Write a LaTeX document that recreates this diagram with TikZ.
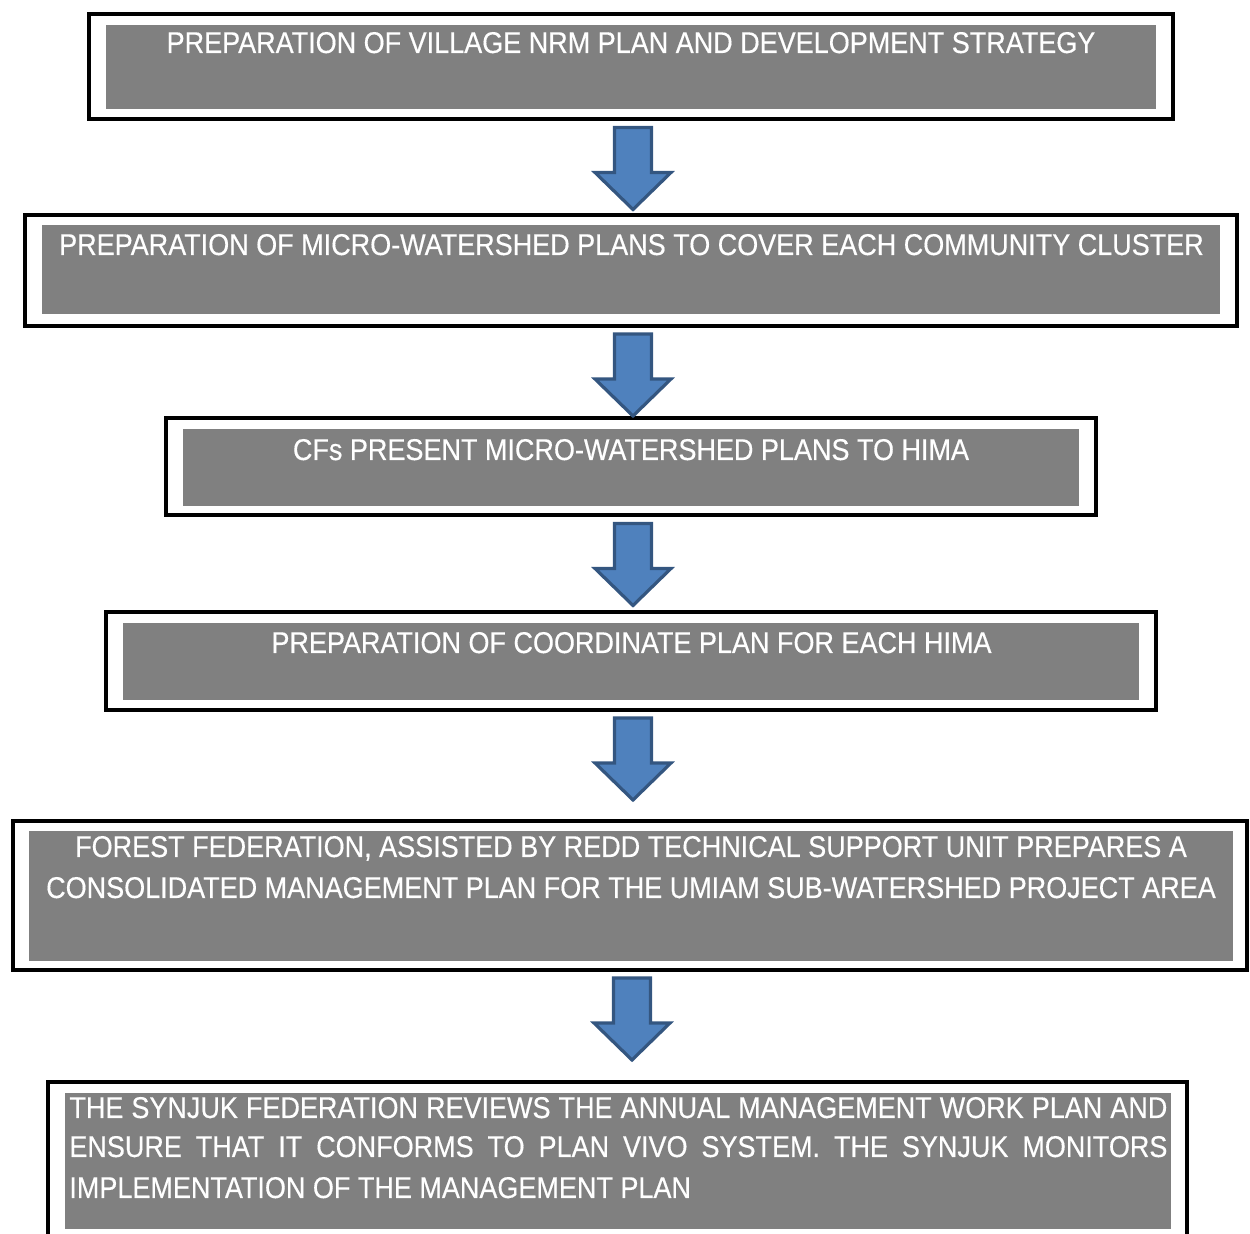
\documentclass[tikz,border=0pt]{standalone}
\usepackage{fontspec}
\setmainfont{Liberation Sans}[FakeStretch=0.9, FakeBold=0.4]
\usetikzlibrary{calc,fit}
\definecolor{panelgray}{RGB}{128,128,128}
\definecolor{arrowfill}{RGB}{79,129,189}
\definecolor{arrowline}{RGB}{52,86,128}
\tikzset{
  frame/.style={draw=black, line width=2pt, fill=white, inner sep=0pt},
  panel/.style={fill=panelgray, draw=none, inner sep=0pt},
  lbl/.style={text=white, font=\fontsize{15}{20}\selectfont, inner sep=0pt},
  flowarrowstyle/.style={fill=arrowfill, draw=arrowline, line width=1.6pt, line join=miter},
}
% arrow hangs below node #1, pointing towards node #2
\newcommand\flowarrow[2]{%
  \path[flowarrowstyle] let \p1=(#1.south), \p2=(#2.north) in
    (\x1+1pt-9.25pt, \y1-3pt) -- (\x1+1pt+9.25pt, \y1-3pt)
    -- (\x1+1pt+9.25pt, \y1-3pt-22.5pt) -- (\x1+1pt+19pt, \y1-3pt-22.5pt)
    -- (\x1+1pt, \y1-3pt-41pt)
    -- (\x1+1pt-19pt, \y1-3pt-22.5pt) -- (\x1+1pt-9.25pt, \y1-3pt-22.5pt) -- cycle;}
\begin{document}
\begin{tikzpicture}[x=0.5pt, y=-0.5pt]
\useasboundingbox (0,0) rectangle (1250,1234);
\clip (0,0) rectangle (1250,1234);

% box 1
\node[frame, fit={(89,14.5) (1173,119.5)}] (f1) {};
\node[panel, fit={(106,25) (1156,109)}] (p1) {};
\node[lbl, anchor=base] (t1) at (631,53) {PREPARATION OF VILLAGE NRM PLAN AND DEVELOPMENT STRATEGY};

% box 2
\node[frame, fit={(25,215) (1237,326)}] (f2) {};
\node[panel, fit={(42,225) (1220,314)}] (p2) {};
\node[lbl, anchor=base] (t2) at (631.5,255) {PREPARATION OF MICRO-WATERSHED PLANS TO COVER EACH COMMUNITY CLUSTER};

% box 3
\node[frame, fit={(166,418) (1096,515.5)}] (f3) {};
\node[panel, fit={(183,429) (1079,506)}] (p3) {};
\node[lbl, anchor=base] (t3) at (631,460) {CFs PRESENT MICRO-WATERSHED PLANS TO HIMA};

% box 4
\node[frame, fit={(106,612) (1156,710)}] (f4) {};
\node[panel, fit={(123,623) (1139,700)}] (p4) {};
\node[lbl, anchor=base] (t4) at (631.5,653) {PREPARATION OF COORDINATE PLAN FOR EACH HIMA};

% box 5
\node[frame, fit={(13,821) (1247,970)}] (f5) {};
\node[panel, fit={(29,831) (1233,961)}] (p5) {};
\node[lbl, anchor=base] (t5a) at (631,857) {FOREST FEDERATION, ASSISTED BY REDD TECHNICAL SUPPORT UNIT PREPARES A};
\node[lbl, anchor=base] (t5b) at (631,898) {CONSOLIDATED MANAGEMENT PLAN FOR THE UMIAM SUB-WATERSHED PROJECT AREA};

% box 6
\node[frame, fit={(48,1082) (1187,1270)}] (f6) {};
\node[panel, fit={(65,1093) (1171,1229)}] (p6) {};
\node[lbl, anchor=base west] (t6a) at (69,1118) {\makebox[549pt][s]{THE SYNJUK FEDERATION REVIEWS THE ANNUAL MANAGEMENT WORK PLAN AND}};
\node[lbl, anchor=base west] (t6b) at (69,1157) {\makebox[549pt][s]{ENSURE THAT IT CONFORMS TO PLAN VIVO SYSTEM. THE SYNJUK MONITORS}};
\node[lbl, anchor=base west] (t6c) at (69,1198) {IMPLEMENTATION OF THE MANAGEMENT PLAN};

% arrows
\flowarrow{f1}{f2}
\flowarrow{f2}{f3}
\flowarrow{f3}{f4}
\flowarrow{f4}{f5}
\flowarrow{f5}{f6}
\end{tikzpicture}
\end{document}
